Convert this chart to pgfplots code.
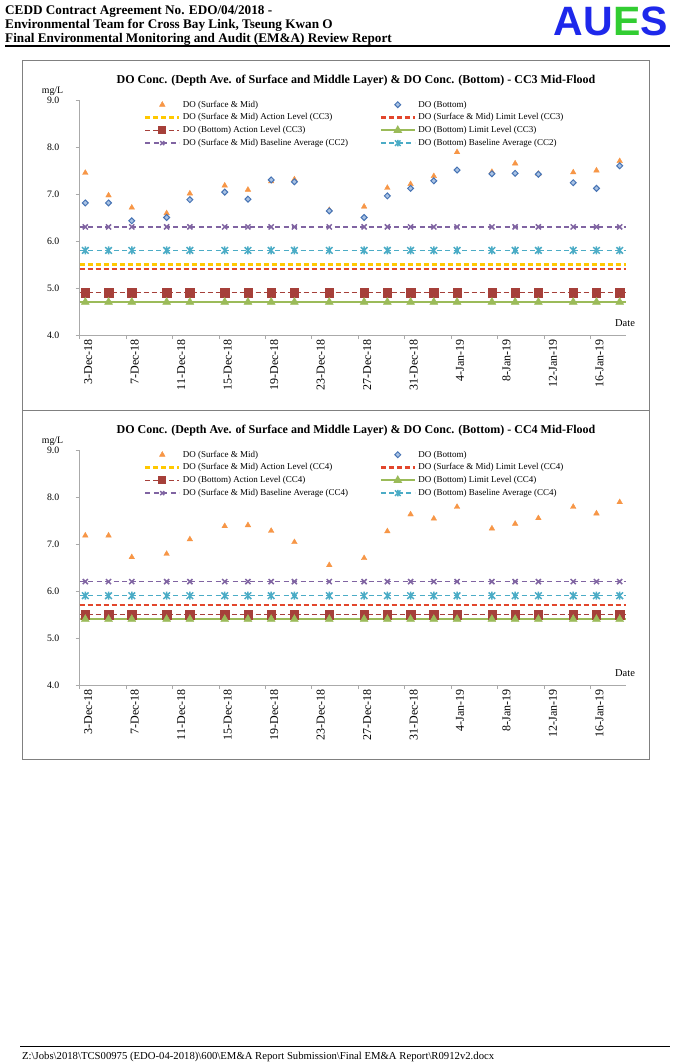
\documentclass[border=0pt]{standalone}
\usepackage{fontspec}
\setmainfont{Liberation Serif}
\newfontfamily\sansb{Liberation Sans}
\usepackage{pgfplots}
\pgfplotsset{compat=1.18}
\usepackage{pgfplotstable}

\definecolor{dotri}{RGB}{247,150,70}
\definecolor{diadraw}{RGB}{70,115,180}
\definecolor{diafill}{RGB}{170,195,228}
\definecolor{ylw}{RGB}{255,200,0}
\definecolor{redl}{RGB}{226,70,44}
\definecolor{brn}{RGB}{166,64,58}
\definecolor{grn}{RGB}{155,187,89}
\definecolor{pur}{RGB}{128,100,162}
\definecolor{cyn}{RGB}{75,172,198}
\definecolor{axgray}{RGB}{170,170,170}
\definecolor{boxgray}{RGB}{128,128,128}
\definecolor{aublue}{RGB}{30,40,235}
\definecolor{augreen}{RGB}{50,205,50}

\pgfdeclareplotmark{xstar}{%
  \pgfpathmoveto{\pgfqpoint{-\pgfplotmarksize}{-\pgfplotmarksize}}%
  \pgfpathlineto{\pgfqpoint{\pgfplotmarksize}{\pgfplotmarksize}}%
  \pgfpathmoveto{\pgfqpoint{-\pgfplotmarksize}{\pgfplotmarksize}}%
  \pgfpathlineto{\pgfqpoint{\pgfplotmarksize}{-\pgfplotmarksize}}%
  \pgfpathmoveto{\pgfqpoint{0pt}{-1.2\pgfplotmarksize}}%
  \pgfpathlineto{\pgfqpoint{0pt}{1.2\pgfplotmarksize}}%
  \pgfusepathqstroke}

\pgfplotstableread{
d sm bot ab lb bs bb
0 7.45 6.81 4.9 4.7 6.3 5.8
2 6.97 6.81 4.9 4.7 6.3 5.8
4 6.71 6.43 4.9 4.7 6.3 5.8
7 6.59 6.50 4.9 4.7 6.3 5.8
9 7.01 6.88 4.9 4.7 6.3 5.8
12 7.18 7.04 4.9 4.7 6.3 5.8
14 7.09 6.89 4.9 4.7 6.3 5.8
16 7.27 7.30 4.9 4.7 6.3 5.8
18 7.31 7.26 4.9 4.7 6.3 5.8
21 6.66 6.64 4.9 4.7 6.3 5.8
24 6.73 6.50 4.9 4.7 6.3 5.8
26 7.13 6.96 4.9 4.7 6.3 5.8
28 7.21 7.12 4.9 4.7 6.3 5.8
30 7.38 7.28 4.9 4.7 6.3 5.8
32 7.89 7.51 4.9 4.7 6.3 5.8
35 7.47 7.43 4.9 4.7 6.3 5.8
37 7.65 7.44 4.9 4.7 6.3 5.8
39 7.43 7.42 4.9 4.7 6.3 5.8
42 7.46 7.24 4.9 4.7 6.3 5.8
44 7.50 7.12 4.9 4.7 6.3 5.8
46 7.70 7.60 4.9 4.7 6.3 5.8
}\ccthree

\pgfplotstableread{
d sm ab lb bs bb
0 7.18 5.5 5.4 6.2 5.9
2 7.18 5.5 5.4 6.2 5.9
4 6.72 5.5 5.4 6.2 5.9
7 6.79 5.5 5.4 6.2 5.9
9 7.10 5.5 5.4 6.2 5.9
12 7.38 5.5 5.4 6.2 5.9
14 7.40 5.5 5.4 6.2 5.9
16 7.28 5.5 5.4 6.2 5.9
18 7.04 5.5 5.4 6.2 5.9
21 6.55 5.5 5.4 6.2 5.9
24 6.70 5.5 5.4 6.2 5.9
26 7.27 5.5 5.4 6.2 5.9
28 7.63 5.5 5.4 6.2 5.9
30 7.54 5.5 5.4 6.2 5.9
32 7.79 5.5 5.4 6.2 5.9
35 7.33 5.5 5.4 6.2 5.9
37 7.43 5.5 5.4 6.2 5.9
39 7.55 5.5 5.4 6.2 5.9
42 7.79 5.5 5.4 6.2 5.9
44 7.65 5.5 5.4 6.2 5.9
46 7.89 5.5 5.4 6.2 5.9
}\ccfour

\pgfplotsset{
  lineleg/.style={legend image code/.code={\draw[mark repeat=2,mark phase=2,##1] plot coordinates {(0pt,0pt) (17pt,0pt) (34pt,0pt)};}},
  markleg/.style={legend image code/.code={\draw[##1] plot coordinates {(17pt,0pt)};}},
  doaxis/.style={
    scale only axis, width=546pt, height=235pt,
    xmin=-0.5, xmax=46.5, ymin=4, ymax=9, clip=false,
    axis lines*=left,
    axis line style={draw=axgray, line width=0.8pt, -},
    xtick={0,4,...,44},
    xticklabels={3-Dec-18,7-Dec-18,11-Dec-18,15-Dec-18,19-Dec-18,23-Dec-18,27-Dec-18,31-Dec-18,4-Jan-19,8-Jan-19,12-Jan-19,16-Jan-19},
    minor xtick={-0.5,3.5,...,43.5},
    ytick={4,5,...,9},
    tick align=outside, major tick length=4pt, minor tick length=4pt,
    tick style={draw=axgray, line width=0.8pt},
    major x tick style={draw=none},
    xticklabel style={rotate=90, anchor=east, inner sep=0pt, yshift=-3pt, font=\fontsize{12}{14}\selectfont},
    yticklabel style={anchor=east, inner sep=0pt, xshift=-16pt, font=\fontsize{9.8}{11}\selectfont,
      /pgf/number format/fixed, /pgf/number format/fixed zerofill,
      /pgf/number format/precision=1, /pgf/number format/assume math mode=true},
    lineleg,
    legend columns=2,
    legend cell align=left,
    legend style={at={(0.1181,1.0026)}, anchor=north west, draw=none, fill=none,
      inner sep=0pt, font=\fontsize{9}{10}\selectfont, row sep=2.6pt,
      nodes={inner ysep=1.2pt, inner xsep=2.5pt},
      /tikz/every even column/.append style={column sep=29pt}},
  },
  trist/.style={only marks, mark=triangle*, mark size=3.2pt, color=dotri, markleg},
  diast/.style={only marks, mark=square*, mark size=2.1pt, mark options={rotate=45, draw=diadraw, fill=diafill, line width=1pt}, markleg},
  yst/.style={ylw, line width=2.2pt, dash pattern=on 5pt off 3pt},
  rst/.style={redl, line width=2.2pt, dash pattern=on 5pt off 3pt},
  bst/.style={brn, line width=1.5pt, dash pattern=on 5pt off 3pt},
  gst/.style={grn, line width=2pt},
  pst/.style={pur, line width=1.5pt, dash pattern=on 5pt off 3.5pt},
  cst/.style={cyn, line width=1.5pt, dash pattern=on 5pt off 3.5pt},
  bmk/.style={brn, mark=square*, mark size=4.2pt, mark options={solid}},
  gmk/.style={grn, mark=triangle*, mark size=4.6pt, mark options={solid}},
  pmk/.style={pur, mark=x, mark size=3.6pt, mark options={solid, line width=1.5pt}},
  cmk/.style={cyn, mark=xstar, mark size=3.3pt, mark options={solid, line width=1.5pt}},
}

\begin{document}
\begin{tikzpicture}[every node/.style={inner sep=0pt}]
\path[use as bounding box] (0pt,0pt) rectangle (676pt,-1064pt);
\fill[white] (0pt,0pt) rectangle (676pt,-1064pt);

% header
\node[anchor=base west, font=\fontsize{13.2}{14}\selectfont\bfseries] at (5pt,-14.5pt) {CEDD Contract Agreement No. EDO/04/2018 -};
\node[anchor=base west, font=\fontsize{13.2}{14}\selectfont\bfseries] at (5pt,-28.5pt) {Environmental Team for Cross Bay Link, Tseung Kwan O};
\node[anchor=base west, font=\fontsize{13.2}{14}\selectfont\bfseries] at (5pt,-42.5pt) {Final Environmental Monitoring and Audit (EM\&A) Review Report};
\node[anchor=base east, font=\fontsize{41}{41}\selectfont\sansb\bfseries] at (668pt,-36pt) {\textcolor{aublue}{AU}\textcolor{augreen}{E}\textcolor{aublue}{S}};
\draw[line width=1.5pt] (5pt,-46pt) -- (670pt,-46pt);

% boxes
\draw[boxgray, line width=1pt] (22pt,-61pt) rectangle (649.5pt,-410.5pt);
\draw[boxgray, line width=1pt] (22pt,-410.5pt) rectangle (649.5pt,-759pt);

% footer
\draw[line width=0.8pt] (20pt,-1046pt) -- (670pt,-1046pt);
\node[anchor=base west, font=\fontsize{10.7}{12}\selectfont] at (22pt,-1059pt) {Z:\textbackslash Jobs\textbackslash 2018\textbackslash TCS00975 (EDO-04-2018)\textbackslash 600\textbackslash EM\&A Report Submission\textbackslash Final EM\&A Report\textbackslash R0912v2.docx};

% ===== top chart CC3 =====
\node[font=\fontsize{12}{14}\selectfont\bfseries] at (356pt,-80.7pt) {DO Conc. (Depth Ave. of Surface and Middle Layer) \& DO Conc. (Bottom) - CC3 Mid-Flood};
\node[font=\fontsize{9.8}{11}\selectfont] at (52.5pt,-91.3pt) {mg/L};
\node[font=\fontsize{10.5}{12}\selectfont] at (625pt,-323pt) {Date};
\begin{axis}[doaxis, at={(79.5pt,-335pt)}, anchor=south west]
\addplot[yst, forget plot] coordinates {(-0.5,5.5) (46.5,5.5)};
\addplot[rst, forget plot] coordinates {(-0.5,5.4) (46.5,5.4)};
\addplot[bst, forget plot] coordinates {(-0.5,4.9) (46.5,4.9)};
\addplot[only marks, bmk, forget plot] table[x=d,y=ab] {\ccthree};
\addplot[gst, forget plot] coordinates {(-0.5,4.7) (46.5,4.7)};
\addplot[only marks, gmk, forget plot] table[x=d,y=lb] {\ccthree};
\addplot[pst, forget plot] coordinates {(-0.5,6.3) (46.5,6.3)};
\addplot[only marks, pmk, forget plot] table[x=d,y=bs] {\ccthree};
\addplot[cst, forget plot] coordinates {(-0.5,5.8) (46.5,5.8)};
\addplot[only marks, cmk, forget plot] table[x=d,y=bb] {\ccthree};
\addplot[trist] table[x=d,y=sm] {\ccthree};
\addlegendentry{DO (Surface \& Mid)}
\addplot[diast] table[x=d,y=bot] {\ccthree};
\addlegendentry{DO (Bottom)}
\addlegendimage{yst}
\addlegendentry{DO (Surface \& Mid) Action Level (CC3)}
\addlegendimage{rst}
\addlegendentry{DO (Surface \& Mid) Limit Level (CC3)}
\addlegendimage{bst, bmk, mark size=3.2pt}
\addlegendentry{DO (Bottom) Action Level (CC3)}
\addlegendimage{gst, gmk, mark size=3.2pt}
\addlegendentry{DO (Bottom) Limit Level (CC3)}
\addlegendimage{pst, pmk, mark size=2.8pt}
\addlegendentry{DO (Surface \& Mid) Baseline Average (CC2)}
\addlegendimage{cst, cmk, mark size=2.8pt}
\addlegendentry{DO (Bottom) Baseline Average (CC2)}
\end{axis}

% ===== bottom chart CC4 =====
\node[font=\fontsize{12}{14}\selectfont\bfseries] at (356pt,-430.7pt) {DO Conc. (Depth Ave. of Surface and Middle Layer) \& DO Conc. (Bottom) - CC4 Mid-Flood};
\node[font=\fontsize{9.8}{11}\selectfont] at (52.5pt,-441.3pt) {mg/L};
\node[font=\fontsize{10.5}{12}\selectfont] at (625pt,-673pt) {Date};
\begin{axis}[doaxis, at={(79.5pt,-685pt)}, anchor=south west]
\addplot[yst, forget plot] coordinates {(-0.5,5.7) (46.5,5.7)};
\addplot[rst, forget plot] coordinates {(-0.5,5.7) (46.5,5.7)};
\addplot[bst, forget plot] coordinates {(-0.5,5.5) (46.5,5.5)};
\addplot[only marks, bmk, forget plot] table[x=d,y=ab] {\ccfour};
\addplot[gst, forget plot] coordinates {(-0.5,5.4) (46.5,5.4)};
\addplot[only marks, gmk, forget plot] table[x=d,y=lb] {\ccfour};
\addplot[pst, forget plot] coordinates {(-0.5,6.2) (46.5,6.2)};
\addplot[only marks, pmk, forget plot] table[x=d,y=bs] {\ccfour};
\addplot[cst, forget plot] coordinates {(-0.5,5.9) (46.5,5.9)};
\addplot[only marks, cmk, forget plot] table[x=d,y=bb] {\ccfour};
\addplot[trist] table[x=d,y=sm] {\ccfour};
\addlegendentry{DO (Surface \& Mid)}
\addlegendimage{diast}
\addlegendentry{DO (Bottom)}
\addlegendimage{yst}
\addlegendentry{DO (Surface \& Mid) Action Level (CC4)}
\addlegendimage{rst}
\addlegendentry{DO (Surface \& Mid) Limit Level (CC4)}
\addlegendimage{bst, bmk, mark size=3.2pt}
\addlegendentry{DO (Bottom) Action Level (CC4)}
\addlegendimage{gst, gmk, mark size=3.2pt}
\addlegendentry{DO (Bottom) Limit Level (CC4)}
\addlegendimage{pst, pmk, mark size=2.8pt}
\addlegendentry{DO (Surface \& Mid) Baseline Average (CC4)}
\addlegendimage{cst, cmk, mark size=2.8pt}
\addlegendentry{DO (Bottom) Baseline Average (CC4)}
\end{axis}
\end{tikzpicture}
\end{document}
